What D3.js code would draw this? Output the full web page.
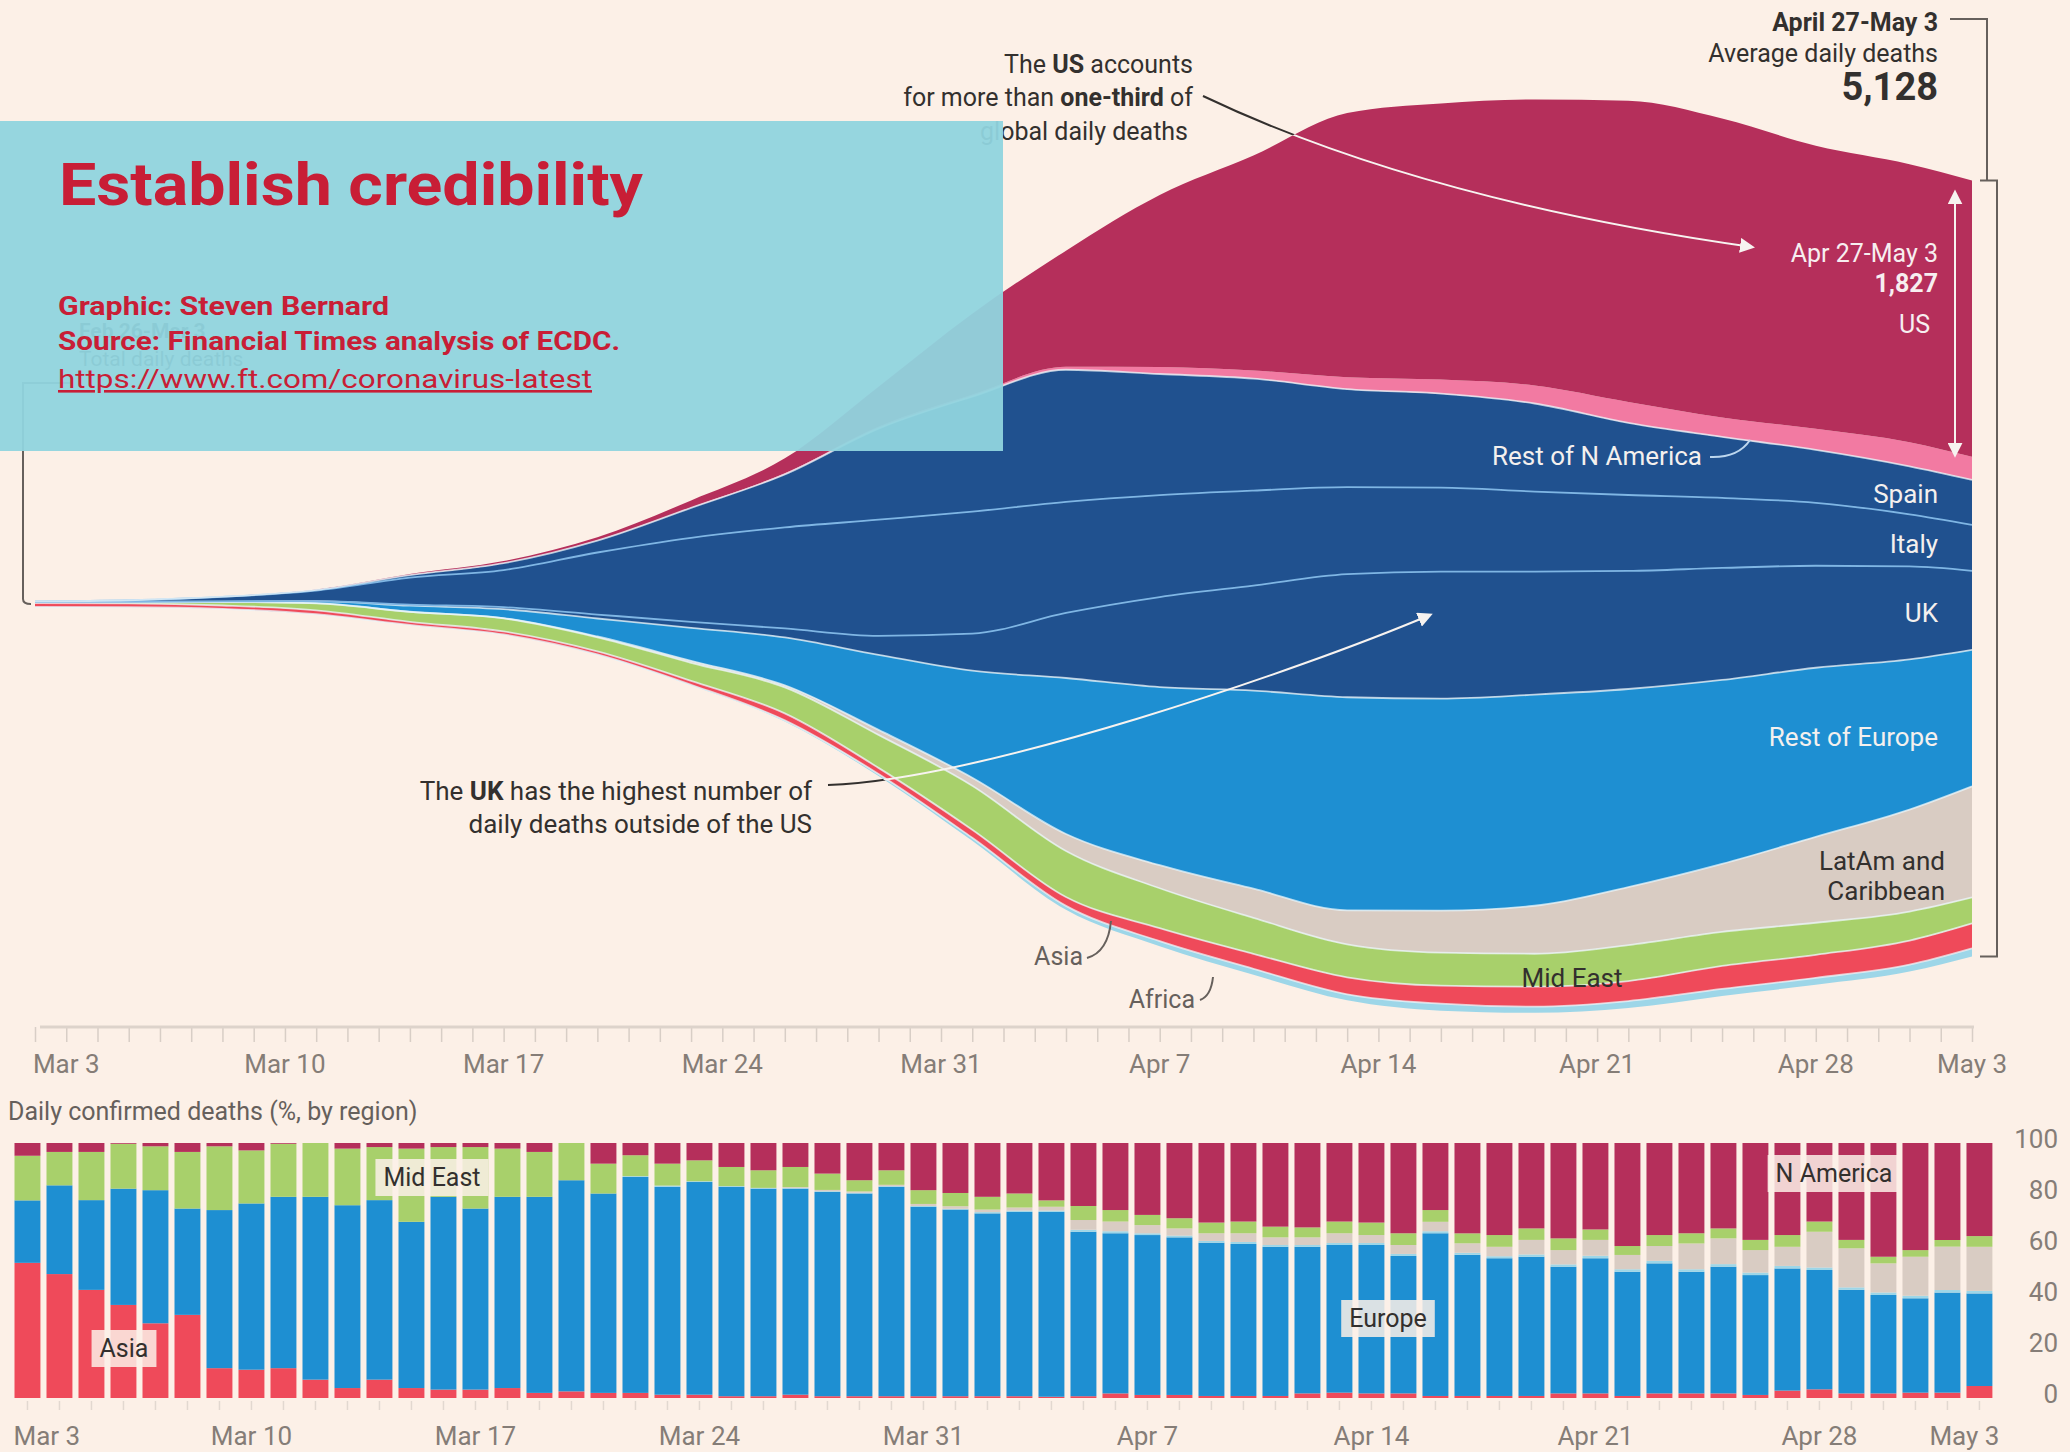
<!DOCTYPE html>
<html>
<head>
<meta charset="utf-8">
<script src="https://cdn.jsdelivr.net/npm/d3@7"></script>
<style>
  html, body { margin: 0; padding: 0; background: #fcf0e7; }
  svg { display: block; }
  text { font-family: Roboto, "Noto Sans", sans-serif; }
</style>
</head>
<body>
<svg id="chart" width="2070" height="1452"></svg>
<script>
// ---- stream data: 7-day average daily deaths by region ----
var streamDates = ["2020-03-02","2020-03-05","2020-03-08","2020-03-11","2020-03-14","2020-03-17","2020-03-20",
  "2020-03-23","2020-03-26","2020-03-29","2020-04-01","2020-04-04","2020-04-07","2020-04-10","2020-04-13",
  "2020-04-16","2020-04-19","2020-04-22","2020-04-25","2020-04-28","2020-05-01","2020-05-03"];
var usDeaths      = [1, 1, 2, 3, 7, 13, 20, 46, 99, 264, 535, 767, 1137, 1421, 1745, 1824, 1890, 1990, 1976, 1871, 1838, 1827];
var restNADeaths  = [0, 0, 0, 0, 1, 1, 2, 3, 7, 13, 13, 20, 46, 53, 79, 93, 119, 139, 128, 139, 159, 152];
var spainDeaths   = [0, 0, 1, 5, 17, 46, 79, 198, 350, 602, 760, 873, 800, 740, 648, 621, 582, 476, 403, 350, 317, 297];
var italyDeaths   = [3, 10, 30, 69, 178, 245, 410, 555, 668, 767, 806, 734, 674, 628, 575, 555, 529, 502, 463, 416, 344, 304];
var ukDeaths      = [0, 0, 1, 1, 7, 13, 26, 40, 59, 126, 245, 430, 595, 694, 813, 839, 813, 780, 740, 674, 615, 522];
var restEuDeaths  = [1, 1, 3, 13, 40, 59, 119, 218, 317, 496, 707, 1031, 1177, 1309, 1408, 1401, 1395, 1309, 1216, 1117, 992, 902];
var latamDeaths   = [0, 0, 0, 1, 1, 2, 5, 13, 13, 33, 53, 112, 152, 192, 225, 278, 317, 383, 449, 568, 674, 734];
var midEastDeaths = [7, 10, 23, 46, 66, 86, 93, 119, 172, 218, 291, 304, 264, 238, 218, 218, 218, 238, 225, 212, 192, 172];
var asiaDeaths    = [26, 25, 22, 26, 20, 20, 20, 26, 46, 40, 53, 59, 86, 99, 112, 119, 132, 132, 152, 152, 159, 165];
var africaDeaths  = [0, 0, 0, 0, 1, 1, 2, 3, 7, 13, 20, 26, 33, 40, 40, 46, 40, 46, 46, 46, 46, 53];

var streamKeys   = ["africa", "asia", "mideast", "latam", "restEu", "uk", "italy", "spain", "restNA", "us"];
var streamColors = { africa: "#9dd6e8", asia: "#ef4a5a", mideast: "#a8d06b", latam: "#d9ccc3", restEu: "#1e8fd2",
                     uk: "#20518f", italy: "#20518f", spain: "#20518f", restNA: "#f27aa2", us: "#b52f5b" };

// ---- bar data: share of daily confirmed deaths (%) ----
var barAsia = [53,48.6,42.4,36.5,29.3,32.6,11.7,11.1,11.7,7.2, 3.9,7.2,3.9,3.3,3.3,3.9,2,2.6,2,2,
  1.3,1.3,0.7,0.7,1.3,0.7,0.7,0.7,0.7,0.7, 0.7,0.7,0.5,0.7,1.8,1.2,1.2,0.8,0.8,0.8,
  1.8,2.1,1.8,1.8,0.8,0.8,0.8,0.8,1.8,1.8, 0.8,1.8,1.8,1.8,1.2,2.9,3.4,1.8,1.8,2.1, 2.1,4.7];
var barEurope = [24.5,34.8,35.2,45.6,52.2,41.7,62,65.2,67.2,71.7, 71.7,70.4,65.2,75.6,71,75,76.9,82.8,78.2,84.7,
  81.5,83.4,82.1,81.4,80.8,80.1,79.5,82.1,74.3,73.2, 71.7,72.3,72.5,64.5,62.8,62.7,61.8,60.1,59.6,58.5,
  57.5,57.9,58.2,53.9,63.8,55.3,54,54.6,49.7,53, 48.7,51,47.7,49.7,47,47.9,46.8,40.6,38.6,37, 39.2,36.3];
var barAfrica = [0,0,0,0,0,0,0,0,0,0, 0,0,0,0,0,0,0,0,0,0.3, 0.5,0.3,0.3,0.3,0.3,0.3,0.3,0.3,0.3,0.3,
  0.5,0.5,0.5,0.8,0.8,0.7,0.7,0.7,0.8,0.7, 0.7,0.8,0.8,0.8,0.8,0.8,0.8,0.9,0.9,1, 1,1,1,1,1,1,1,1,1,1, 1,1];
var barLatam = [0,0,0,0,0,0,0,0,0,0, 0,0,0,0,0,0,0,0,0,0, 0,0,0,0,0.3,0.5,0.5,0.5,0.8,1,
  1,1.2,1.5,3.8,3.8,3.2,2.8,3,3.4,3, 3,3.8,3.1,3.5,3.7,3.7,3.7,5.7,5.6,6.2, 5.6,5.8,10.1,10.1,8.8,7.5,14,15.3,11.4,15.3, 17,17.3];
var barMidEast = [17.5,13.1,18.9,17.6,17.2,22.2,25,20.8,20.8,21.1, 22.2,20.8,28.7,19.5,24.1,18.9,17.6,14.6,11.7,8.2,
  8.6,8.2,7.5,6.9,7.9,6.4,4.4,5.7,5.4,5.2, 5,5.5,2.5,5.5,4.5,4,4,4.2,4.6,4.2,
  3.9,4.6,4.9,4.6,4.6,3.9,4.6,4.5,4.6,4.1, 3.5,4.3,4,3.9,4,4.6,4,3.3,2.6,2.6, 2.6,4.2];
var barNAmerica = [5,3.5,3.5,0.3,1.3,3.5,1.3,2.9,0.3,0, 2.2,1.6,2.2,1.6,1.6,2.2,3.5,0,8.1,4.8,
  8.1,6.8,9.4,10.7,9.4,12,14.6,10.7,18.5,19.6, 21.1,19.8,22.5,24.7,26.3,28.2,29.5,31.2,30.8,32.8,
  33.1,30.8,31.2,35.4,26.3,35.4,36.1,33.5,37.4,33.9, 40.4,36.1,35.4,33.5,38,36.1,30.8,38,44.6,42, 38,36.5];
var barKeys   = ["asia", "europe", "africa", "latam", "mideast", "namerica"];
var barColors = { asia: "#ef4a5a", europe: "#1e8fd2", africa: "#9dd6e8", latam: "#d9ccc3", mideast: "#a8d06b", namerica: "#b52f5b" };

var axisLabelDates = ["2020-03-03","2020-03-10","2020-03-17","2020-03-24","2020-03-31",
  "2020-04-07","2020-04-14","2020-04-21","2020-04-28","2020-05-03"];
var barTicks = [0, 20, 40, 60, 80, 100];

// ---------------------------------------------------------------
var svg = d3.select("#chart");
var parse = d3.timeParse("%Y-%m-%d");
var fmt = d3.timeFormat("%b %-d");
var dark = "#33302e", grey = "#66605c", tickGrey = "#857d77";

svg.append("rect").attr("width", 2070).attr("height", 1452).attr("fill", "#fcf0e7");

var defs = svg.append("defs");
defs.append("marker")
    .attr("id", "arrowWhite")
    .attr("viewBox", "0 0 10 10")
    .attr("refX", 8).attr("refY", 5)
    .attr("markerUnits", "userSpaceOnUse")
    .attr("markerWidth", 15).attr("markerHeight", 15)
    .attr("orient", "auto-start-reverse")
  .append("path")
    .attr("d", "M0,0 L10,5 L0,10 z")
    .attr("fill", "#f7f3f0");

function addText(g, x, y, parts, opts)
{
	opts = opts || {};
	var t = g.append("text")
				.attr("x", x)
				.attr("y", y)
				.attr("text-anchor", opts.anchor || "start")
				.attr("font-size", opts.size || 25)
				.attr("fill", opts.color || dark);
	if (typeof parts == "string") parts = [[parts, false]];
	parts.forEach(function(p) {
		t.append("tspan").text(p[0]).attr("font-weight", p[1] ? "bold" : null);
	});
	return t;
}

// ---- stream graph ----
var xTop = d3.scaleTime()
				.domain([parse("2020-03-02"), parse("2020-05-03")])
				.range([35, 1972]);
var yTop = d3.scaleLinear().domain([0, 5128]).range([607, 607 - 776]);

var streamRows = streamDates.map(function(s, i) {
	return { date: parse(s), us: usDeaths[i], restNA: restNADeaths[i], spain: spainDeaths[i], italy: italyDeaths[i],
	         uk: ukDeaths[i], restEu: restEuDeaths[i], latam: latamDeaths[i], mideast: midEastDeaths[i],
	         asia: asiaDeaths[i], africa: africaDeaths[i] };
});
var layers = d3.stack()
				.keys(streamKeys)
				.order(d3.stackOrderNone)
				.offset(d3.stackOffsetWiggle)(streamRows);
var topLayer = layers[layers.length - 1], bottomLayer = layers[0], last = streamRows.length - 1;

var area = d3.area()
				.curve(d3.curveMonotoneX)
				.x(function(d) { return xTop(d.data.date); })
				.y0(function(d) { return yTop(d[0]); })
				.y1(function(d) { return yTop(d[1]); });
var seamLine = d3.line()
				.curve(d3.curveMonotoneX)
				.x(function(d) { return xTop(d.data.date); })
				.y(function(d) { return yTop(d[1]); });
var outline = d3.area()
				.curve(d3.curveMonotoneX)
				.x(function(d) { return xTop(d.date); })
				.y0(function(d, i) { return yTop(bottomLayer[i][0]); })
				.y1(function(d, i) { return yTop(topLayer[i][1]); });

defs.append("clipPath").attr("id", "inStream")
	.append("path").attr("d", outline(streamRows));
var mask = defs.append("mask").attr("id", "outStream");
mask.append("rect").attr("width", 2070).attr("height", 1452).attr("fill", "white");
mask.append("path").attr("d", outline(streamRows)).attr("fill", "black");

var gStream = svg.append("g").attr("class", "stream");
gStream.selectAll("path.layer")
	.data(layers)
	.enter().append("path")
		.attr("class", "layer")
		.attr("fill", function(d) { return streamColors[d.key]; })
		.attr("d", area);

// thin pale seams between regions
gStream.selectAll("path.seam")
	.data(layers.slice(0, layers.length - 2))
	.enter().append("path")
		.attr("class", "seam")
		.attr("fill", "none")
		.attr("stroke", function(d) { return (d.key == "uk" || d.key == "italy") ? "#7fb6e4" : "rgba(235,245,250,0.75)"; })
		.attr("stroke-width", 1.8)
		.attr("d", seamLine);

// top axis with a tick for every day
var gAxis = svg.append("g").attr("transform", "translate(0,1027)");
gAxis.call(d3.axisBottom(xTop).ticks(d3.timeDay.every(1)).tickSize(15).tickFormat(""));
gAxis.select(".domain").remove();
gAxis.selectAll(".tick line").attr("stroke", "#d8cec6").attr("stroke-width", 1.5);
gAxis.append("line").attr("x1", 40).attr("x2", 1974).attr("stroke", "#ddd3cb").attr("stroke-width", 3);
gAxis.selectAll("text.lbl")
	.data(axisLabelDates)
	.enter().append("text")
		.attr("class", "lbl")
		.attr("x", function(d) { return xTop(parse(d)); })
		.attr("y", 46)
		.attr("text-anchor", "middle")
		.attr("font-size", 26)
		.attr("fill", tickGrey)
		.text(function(d) { return fmt(parse(d)); });

// ---- annotations on the stream ----
var gNote = svg.append("g").attr("class", "notes");
var startY = yTop((bottomLayer[0][0] + topLayer[0][1]) / 2);
var endTop = yTop(topLayer[last][1]), endBottom = yTop(bottomLayer[last][0]);
var usBottom = yTop(topLayer[last][0]);

// label under the slide box at the start
addText(gNote, 79, 338, [["Feb 26-Mar 3", true]], { size: 21 });
addText(gNote, 79, 366, "Total daily deaths", { size: 21 });
gNote.append("path")
	.attr("d", "M70,383 H23 V" + (startY - 5) + " Q23," + startY + " 31," + startY)
	.attr("fill", "none").attr("stroke", grey).attr("stroke-width", 2);

// right bracket
gNote.append("path")
	.attr("d", "M1950,19 H1987 V" + endTop + " M1980," + endTop + " H1997 V" + endBottom + " H1980")
	.attr("fill", "none").attr("stroke", grey).attr("stroke-width", 2);
addText(gNote, 1938, 31, [["April 27-May 3", true]], { anchor: "end", size: 25 });
addText(gNote, 1938, 62, "Average daily deaths", { anchor: "end", size: 25 });
addText(gNote, 1938, 100, [[d3.format(",")(5128), true]], { anchor: "end", size: 38 });

// US share arrow
addText(gNote, 1193, 73, [["The ", false], ["US", true], [" accounts", false]], { anchor: "end", size: 25 });
addText(gNote, 1193, 106, [["for more than ", false], ["one-third", true], [" of", false]], { anchor: "end", size: 25 });
addText(gNote, 1188, 140, "global daily deaths", { anchor: "end", size: 25 });
var usArrow = "M1203,96 Q1421,200 1752,247";
gNote.append("path").attr("d", usArrow).attr("fill", "none")
	.attr("stroke", dark).attr("stroke-width", 2).attr("mask", "url(#outStream)");
gNote.append("path").attr("d", usArrow).attr("fill", "none")
	.attr("stroke", "#f7f3f0").attr("stroke-width", 2).attr("clip-path", "url(#inStream)")
	.attr("marker-end", "url(#arrowWhite)");

addText(gNote, 1938, 262, "Apr 27-May 3", { anchor: "end", size: 25, color: "#f7eef0" });
addText(gNote, 1938, 292, [[d3.format(",")(1827), true]], { anchor: "end", size: 25, color: "#f7eef0" });
addText(gNote, 1930, 333, "US", { anchor: "end", size: 25, color: "#f7eef0" });
gNote.append("line")
	.attr("x1", 1955).attr("x2", 1955)
	.attr("y1", endTop + 12).attr("y2", usBottom - 2)
	.attr("stroke", "#f7f3f0").attr("stroke-width", 2)
	.attr("marker-start", "url(#arrowWhite)")
	.attr("marker-end", "url(#arrowWhite)");

// UK arrow
addText(gNote, 812, 800, [["The ", false], ["UK", true], [" has the highest number of", false]], { anchor: "end", size: 26 });
addText(gNote, 812, 833, "daily deaths outside of the US", { anchor: "end", size: 26 });
var ukArrow = "M828,785 C980,780 1300,670 1430,615";
gNote.append("path").attr("d", ukArrow).attr("fill", "none")
	.attr("stroke", dark).attr("stroke-width", 2).attr("mask", "url(#outStream)");
gNote.append("path").attr("d", ukArrow).attr("fill", "none")
	.attr("stroke", "#f7f3f0").attr("stroke-width", 2).attr("clip-path", "url(#inStream)")
	.attr("marker-end", "url(#arrowWhite)");

// region labels
var white = "#f4f0ee";
addText(gNote, 1702, 465, "Rest of N America", { anchor: "end", size: 26, color: white });
gNote.append("path").attr("d", "M1710,457 Q1738,458 1750,440")
	.attr("fill", "none").attr("stroke", "#bcd6ee").attr("stroke-width", 2);
addText(gNote, 1938, 503, "Spain", { anchor: "end", size: 26, color: white });
addText(gNote, 1938, 553, "Italy", { anchor: "end", size: 26, color: white });
addText(gNote, 1938, 622, "UK", { anchor: "end", size: 26, color: white });
addText(gNote, 1938, 746, "Rest of Europe", { anchor: "end", size: 26, color: white });
addText(gNote, 1945, 870, "LatAm and", { anchor: "end", size: 26 });
addText(gNote, 1945, 900, "Caribbean", { anchor: "end", size: 26 });
addText(gNote, 1572, 987, "Mid East", { anchor: "middle", size: 26 });
addText(gNote, 1083, 965, "Asia", { anchor: "end", size: 25, color: grey });
gNote.append("path").attr("d", "M1087,958 Q1108,952 1111,921")
	.attr("fill", "none").attr("stroke", grey).attr("stroke-width", 2);
addText(gNote, 1195, 1008, "Africa", { anchor: "end", size: 25, color: grey });
gNote.append("path").attr("d", "M1200,1000 Q1211,996 1213,977")
	.attr("fill", "none").attr("stroke", grey).attr("stroke-width", 2);

// ---- bar chart: share by region ----
var barDates = d3.timeDay.range(parse("2020-03-03"), parse("2020-05-04"));
var barRows = barDates.map(function(d, i) {
	return { date: d, asia: barAsia[i], europe: barEurope[i], africa: barAfrica[i], latam: barLatam[i],
	         mideast: barMidEast[i], namerica: barNAmerica[i] };
});
var barLayers = d3.stack().keys(barKeys).offset(d3.stackOffsetExpand)(barRows);
var xBar = d3.scaleBand().domain(barDates).range([11.3, 1995.6]).paddingInner(0.19).paddingOuter(0.1);
var yBar = d3.scaleLinear().domain([0, 1]).range([1398, 1143]);

addText(svg, 8, 1120, "Daily confirmed deaths (%, by region)", { size: 25, color: grey });

var gBars = svg.append("g").attr("class", "bars");
gBars.selectAll("g.series")
	.data(barLayers)
	.enter().append("g")
		.attr("class", "series")
		.attr("fill", function(d) { return barColors[d.key]; })
	.selectAll("rect")
	.data(function(d) { return d; })
	.enter().append("rect")
		.attr("x", function(d) { return xBar(d.data.date); })
		.attr("y", function(d) { return yBar(d[1]); })
		.attr("width", xBar.bandwidth())
		.attr("height", function(d) { return Math.max(0, yBar(d[0]) - yBar(d[1])); });

gBars.selectAll("line.tick")
	.data(barDates)
	.enter().append("line")
		.attr("class", "tick")
		.attr("x1", function(d) { return xBar(d) + xBar.bandwidth() / 2; })
		.attr("x2", function(d) { return xBar(d) + xBar.bandwidth() / 2; })
		.attr("y1", 1401).attr("y2", 1410)
		.attr("stroke", "#e2d8d0").attr("stroke-width", 1.5);

gBars.selectAll("text.ylbl")
	.data(barTicks)
	.enter().append("text")
		.attr("class", "ylbl")
		.attr("x", 2058)
		.attr("y", function(d) { return yBar(d / 100) + 5; })
		.attr("text-anchor", "end")
		.attr("font-size", 26)
		.attr("fill", tickGrey)
		.text(function(d) { return d; });

gBars.selectAll("text.xlbl")
	.data(axisLabelDates)
	.enter().append("text")
		.attr("class", "xlbl")
		.attr("x", function(d, i) {
			var b = xBar(parse(d));
			if (i == 0) return b - 1;
			if (i == axisLabelDates.length - 1) return b + xBar.bandwidth() + 7;
			return b + xBar.bandwidth() / 2;
		})
		.attr("y", 1445)
		.attr("text-anchor", function(d, i) { return i == 0 ? "start" : (i == axisLabelDates.length - 1 ? "end" : "middle"); })
		.attr("font-size", 26)
		.attr("fill", tickGrey)
		.text(function(d) { return fmt(parse(d)); });

function boxedLabel(x, y, str)
{
	var g = gBars.append("g");
	var r = g.append("rect").attr("fill", "#fcf0e7").attr("fill-opacity", 0.85);
	var t = addText(g, x, y, str, { anchor: "middle", size: 25 });
	var bb = t.node().getBBox();
	r.attr("x", bb.x - 8).attr("y", bb.y - 4).attr("width", bb.width + 16).attr("height", bb.height + 8);
}
boxedLabel(432, 1186, "Mid East");
boxedLabel(124, 1357, "Asia");
boxedLabel(1388, 1327, "Europe");
boxedLabel(1834, 1182, "N America");

// ---- slide overlay box ----
svg.append("rect")
	.attr("x", 0).attr("y", 121)
	.attr("width", 1003).attr("height", 330)
	.attr("fill", "#90d4de")
	.attr("fill-opacity", 0.95);

var red = "#c81e36";
svg.append("text")
	.attr("x", 59).attr("y", 205)
	.attr("font-family", "'Open Sans', sans-serif")
	.attr("font-weight", "bold")
	.attr("font-size", 60)
	.attr("fill", red)
	.attr("textLength", 584)
	.attr("lengthAdjust", "spacingAndGlyphs")
	.text("Establish credibility");

var credits = [
	{ t: "Graphic: Steven Bernard", y: 315, w: 331, bold: true },
	{ t: "Source: Financial Times analysis of ECDC.", y: 350, w: 562, bold: true },
	{ t: "https://www.ft.com/coronavirus-latest", y: 388, w: 534, bold: false }
];
svg.selectAll("text.credit")
	.data(credits)
	.enter().append("text")
		.attr("class", "credit")
		.attr("x", 58)
		.attr("y", function(d) { return d.y; })
		.attr("font-family", "'Open Sans', sans-serif")
		.attr("font-weight", function(d) { return d.bold ? "bold" : "normal"; })
		.attr("font-size", 26)
		.attr("fill", red)
		.attr("text-decoration", function(d) { return d.bold ? null : "underline"; })
		.attr("textLength", function(d) { return d.w; })
		.attr("lengthAdjust", "spacingAndGlyphs")
		.text(function(d) { return d.t; });
</script>
</body>
</html>
